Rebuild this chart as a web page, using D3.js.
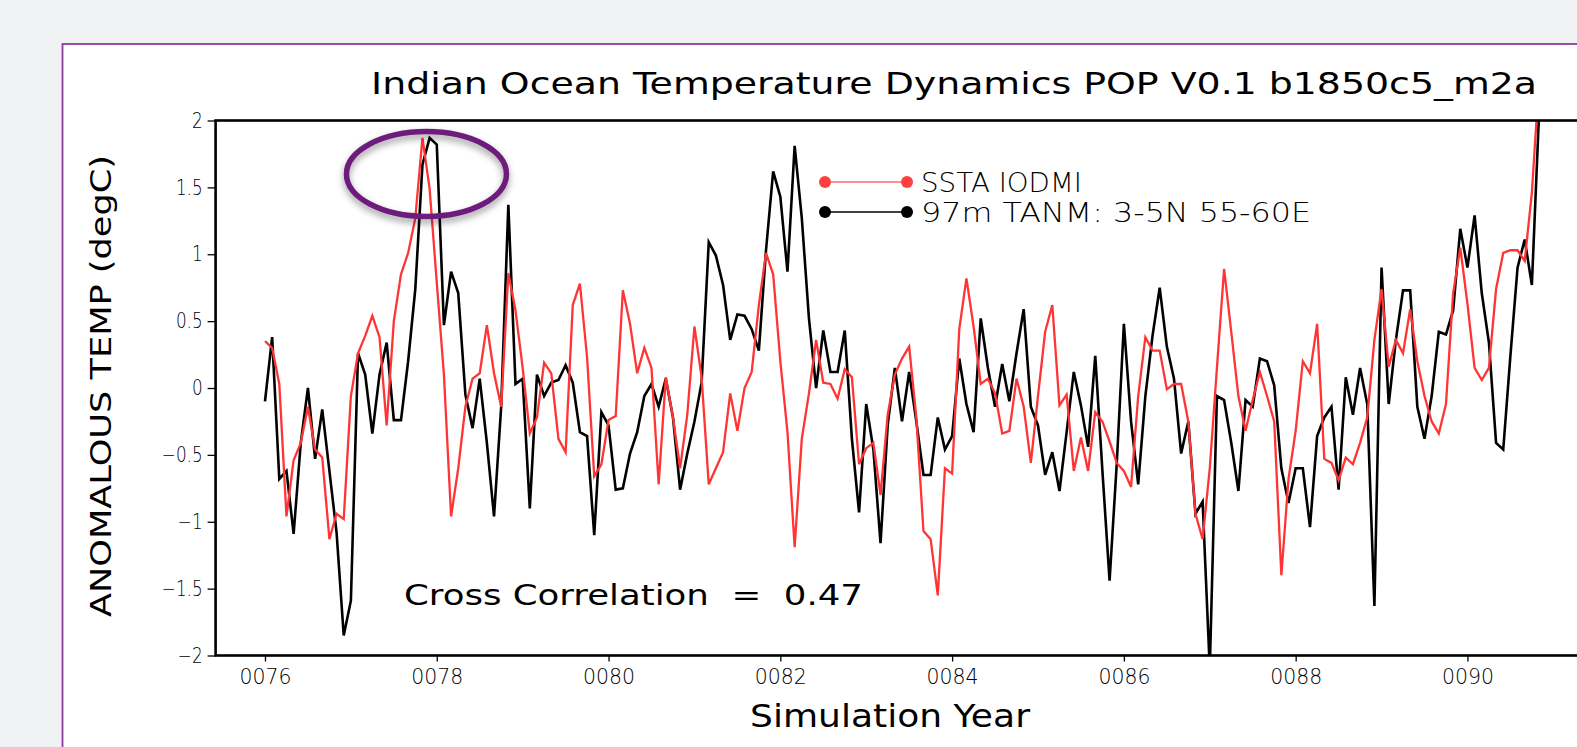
<!DOCTYPE html>
<html><head><meta charset="utf-8">
<script src="https://cdn.jsdelivr.net/npm/d3@7"></script>
<style>
html,body{margin:0;padding:0;background:#f1f2f4;overflow:hidden;}
svg{display:block;}
text{font-family:"DejaVu Sans","Liberation Sans",sans-serif;font-weight:400;fill:#000;}
</style></head><body>
<svg id="chart" width="1577" height="747"></svg>
<script>
// ---------------- DATA ----------------
const startYear = 76;            // first monthly sample = Jan 0076
const seriesNames = ["SSTA IODMI", "97m TANM: 3-5N 55-60E"];
const xTickValues = [76, 78, 80, 82, 84, 86, 88, 90];
const xTickLabels = ["0076", "0078", "0080", "0082", "0084", "0086", "0088", "0090"];
const yTickValues = [-2, -1.5, -1, -0.5, 0, 0.5, 1, 1.5, 2];
const yTickLabels = ["\u22122", "\u22121.5", "\u22121", "\u22120.5", "0", "0.5", "1", "1.5", "2"];
const correlationLabel = "Cross Correlation  =  0.47";

// SSTA IODMI (red), monthly
const ssta = [
 0.35, 0.30, 0.03,-0.96,-0.54,-0.41,-0.14,-0.46,-0.52,-1.13,-0.94,-0.98,
-0.06, 0.26, 0.39, 0.54, 0.38,-0.28, 0.50, 0.85, 1.01, 1.27, 1.87, 1.49,
 0.79, 0.10,-0.96,-0.60,-0.14, 0.07, 0.11, 0.47, 0.11,-0.14, 0.86, 0.58,
 0.15,-0.34,-0.22, 0.19, 0.11,-0.38,-0.48, 0.62, 0.78, 0.23,-0.66,-0.57,
-0.24,-0.21, 0.73, 0.48, 0.11, 0.30, 0.15,-0.72, 0.08,-0.22,-0.60,-0.20,
 0.46, 0.08,-0.72,-0.60,-0.48,-0.04,-0.32, 0.00, 0.12, 0.62, 1.01, 0.85,
 0.20,-0.33,-1.19,-0.38,-0.04, 0.36, 0.04, 0.03,-0.08, 0.14, 0.08,-0.57,
-0.45,-0.41,-0.80,-0.20, 0.10, 0.22, 0.31,-0.22,-1.07,-1.13,-1.55,-0.60,
-0.64, 0.44, 0.82, 0.46, 0.03, 0.07,-0.04,-0.34,-0.32, 0.07,-0.14,-0.56,
-0.06, 0.42, 0.62,-0.13,-0.05,-0.62,-0.37,-0.62,-0.18,-0.25,-0.40,-0.56,
-0.62,-0.74,-0.06, 0.38, 0.28, 0.28,-0.01, 0.03, 0.03,-0.25,-0.94,-1.13,
-0.60, 0.15, 0.89, 0.42,-0.06,-0.32,-0.09, 0.12,-0.06,-0.25,-1.40,-0.68,
-0.32, 0.20, 0.11, 0.48,-0.53,-0.56,-0.69,-0.52,-0.57,-0.41,-0.22, 0.36,
 0.74, 0.16, 0.36, 0.26, 0.59, 0.20,-0.06,-0.25,-0.34,-0.12, 0.71, 1.05,
 0.63, 0.15, 0.06, 0.15, 0.74, 1.01, 1.03, 1.03, 0.95, 1.46, 2.30, 2.60,
 2.80, 2.70, 2.90, 2.80
];

// 97m TANM 3-5N 55-60E (black), monthly
const tanm = [
-0.10, 0.38,-0.68,-0.62,-1.09,-0.41, 0.00,-0.53,-0.16,-0.62,-1.08,-1.85,
-1.59, 0.26, 0.10,-0.34, 0.10, 0.34,-0.24,-0.24, 0.20, 0.74, 1.67, 1.87,
 1.82, 0.47, 0.87, 0.71,-0.05,-0.30, 0.07,-0.41,-0.96,-0.14, 1.37, 0.03,
 0.07,-0.90, 0.10,-0.06, 0.04, 0.06, 0.17, 0.04,-0.33,-0.36,-1.10,-0.18,
-0.28,-0.76,-0.75,-0.49,-0.33,-0.06, 0.03,-0.14, 0.07,-0.22,-0.76,-0.49,
-0.25, 0.04, 1.09, 0.99, 0.77, 0.36, 0.55, 0.54, 0.44, 0.28, 1.03, 1.62,
 1.43, 0.87, 1.81, 1.27, 0.52, 0.00, 0.43, 0.12, 0.12, 0.43,-0.38,-0.93,
-0.12,-0.46,-1.16,-0.28, 0.15,-0.25, 0.12,-0.25,-0.65,-0.65,-0.22,-0.46,
-0.36, 0.22,-0.12,-0.33, 0.52, 0.15,-0.14, 0.18,-0.10, 0.26, 0.59,-0.14,
-0.28,-0.65,-0.48,-0.77,-0.33, 0.12,-0.13,-0.44, 0.24,-0.62,-1.44,-0.57,
 0.48,-0.25,-0.72,-0.06, 0.39, 0.75, 0.31, 0.07,-0.49,-0.25,-0.94,-0.85,
-2.10,-0.06,-0.09,-0.41,-0.77,-0.09,-0.14, 0.22, 0.20, 0.02,-0.60,-0.86,
-0.60,-0.60,-1.04,-0.36,-0.22,-0.14,-0.76, 0.08,-0.20, 0.15,-0.12,-1.63,
 0.90,-0.12, 0.36, 0.73, 0.73,-0.14,-0.38,-0.06, 0.42, 0.40, 0.58, 1.19,
 0.90, 1.29, 0.71, 0.34,-0.41,-0.46, 0.24, 0.90, 1.11, 0.77, 2.05, 2.50,
 2.70, 2.60, 2.80, 2.70
];

// ---------------- CHART ----------------
const svg = d3.select("#chart");
const defs = svg.append("defs");

// slide frame
svg.append("rect").attr("x", 0).attr("y", 0).attr("width", 1577).attr("height", 747).attr("fill", "#f1f2f4");
svg.append("rect").attr("x", 62.5).attr("y", 44).attr("width", 1600).attr("height", 800)
  .attr("fill", "#ffffff").attr("stroke", "#8c3c9c").attr("stroke-width", 1.8);

const x = d3.scaleLinear().domain([75.425, 91.6]).range([215.6, 215.6 + 16.175 * 85.89]);
const y = d3.scaleLinear().domain([-2, 2]).range([655.5, 120.5]);

const [x0, x1] = x.range();
const [yb, yt] = y.range();

defs.append("clipPath").attr("id", "plotClip").append("rect")
  .attr("x", x0).attr("y", yt).attr("width", x1 - x0).attr("height", yb - yt);

const t = i => startYear + i / 12;
const line = d3.line().x((d, i) => x(t(i))).y(d => y(d));

const g = svg.append("g").attr("clip-path", "url(#plotClip)");
g.append("path").datum(tanm).attr("d", line).attr("fill", "none")
  .attr("stroke", "#000").attr("stroke-width", 2.6).attr("stroke-linejoin", "miter");
g.append("path").datum(ssta).attr("d", line).attr("fill", "none")
  .attr("stroke", "#ff3535").attr("stroke-width", 2.3).attr("stroke-linejoin", "miter");

// frame
svg.append("rect").attr("x", x0).attr("y", yt).attr("width", x1 - x0).attr("height", yb - yt)
  .attr("fill", "none").attr("stroke", "#000").attr("stroke-width", 2.6);

// y axis
const yAxis = d3.axisLeft(y).tickValues(yTickValues)
  .tickFormat((d, i) => yTickLabels[i]).tickSize(8).tickPadding(5);
const ya = svg.append("g").attr("transform", `translate(${x0},0)`).call(yAxis);
ya.select(".domain").remove();
ya.selectAll(".tick line").attr("stroke", "#000").attr("stroke-width", 1.3);
ya.selectAll(".tick text").attr("font-size", 21).attr("font-family", null).style("font-weight", 300)
  .each(function () {
    const w = this.getComputedTextLength();
    d3.select(this).attr("textLength", w * 0.8).attr("lengthAdjust", "spacingAndGlyphs");
  });

// x axis
const xAxis = d3.axisBottom(x).tickValues(xTickValues)
  .tickFormat((d, i) => xTickLabels[i]).tickSize(6).tickPadding(8);
const xa = svg.append("g").attr("transform", `translate(0,${yb})`).call(xAxis);
xa.select(".domain").remove();
xa.selectAll(".tick line").attr("stroke", "#000").attr("stroke-width", 1.3);
xa.selectAll(".tick text").attr("font-size", 21).attr("font-family", null).style("font-weight", 300)
  .attr("textLength", 52).attr("lengthAdjust", "spacingAndGlyphs");

// title
svg.append("text").attr("x", 371).attr("y", 94).attr("font-size", 31)
  .attr("textLength", 1166).attr("lengthAdjust", "spacingAndGlyphs")
  .text("Indian Ocean Temperature Dynamics POP V0.1 b1850c5_m2a");

// axis titles
svg.append("text").attr("x", 750).attr("y", 727).attr("font-size", 32)
  .attr("textLength", 280).attr("lengthAdjust", "spacingAndGlyphs").text("Simulation Year");
svg.append("text").attr("transform", "translate(111,386) rotate(-90)")
  .attr("text-anchor", "middle").attr("font-size", 28)
  .attr("textLength", 462).attr("lengthAdjust", "spacingAndGlyphs").text("ANOMALOUS TEMP (degC)");

// correlation label
svg.append("text").attr("x", 404).attr("y", 604.5).attr("font-size", 29)
  .attr("textLength", 459).attr("lengthAdjust", "spacingAndGlyphs")
  .attr("xml:space", "preserve").style("white-space", "pre").text(correlationLabel);

// legend
const legendColors = ["#ff4040", "#000000"];
const legendLine = ["#ff6a6a", "#000000"];
const legendWidths = [161, 390];
const leg = svg.append("g");
seriesNames.forEach((name, i) => {
  const ly = 182 + i * 30;
  leg.append("line").attr("x1", 825).attr("x2", 907).attr("y1", ly).attr("y2", ly)
    .attr("stroke", legendLine[i]).attr("stroke-width", 1.5);
  [825, 907].forEach(cx => leg.append("circle").attr("cx", cx).attr("cy", ly).attr("r", 6)
    .attr("fill", legendColors[i]));
  leg.append("text").attr("x", 921).attr("y", ly + 10).attr("font-size", 26).style("font-weight", 300)
    .attr("textLength", legendWidths[i]).attr("lengthAdjust", "spacingAndGlyphs").text(name);
});

// annotation ellipse around the 0078 peak
const f = defs.append("filter").attr("id", "shadow").attr("x", "-20%").attr("y", "-20%")
  .attr("width", "140%").attr("height", "160%");
f.append("feDropShadow").attr("dx", 0).attr("dy", 4).attr("stdDeviation", 3.5)
  .attr("flood-color", "#000").attr("flood-opacity", 0.4);
svg.append("ellipse").attr("cx", x(77.88)).attr("cy", y(1.6)).attr("rx", 80).attr("ry", 42.5)
  .attr("fill", "none").attr("stroke", "#6e1e7c").attr("stroke-width", 5.5)
  .attr("filter", "url(#shadow)");
</script>
</body></html>
